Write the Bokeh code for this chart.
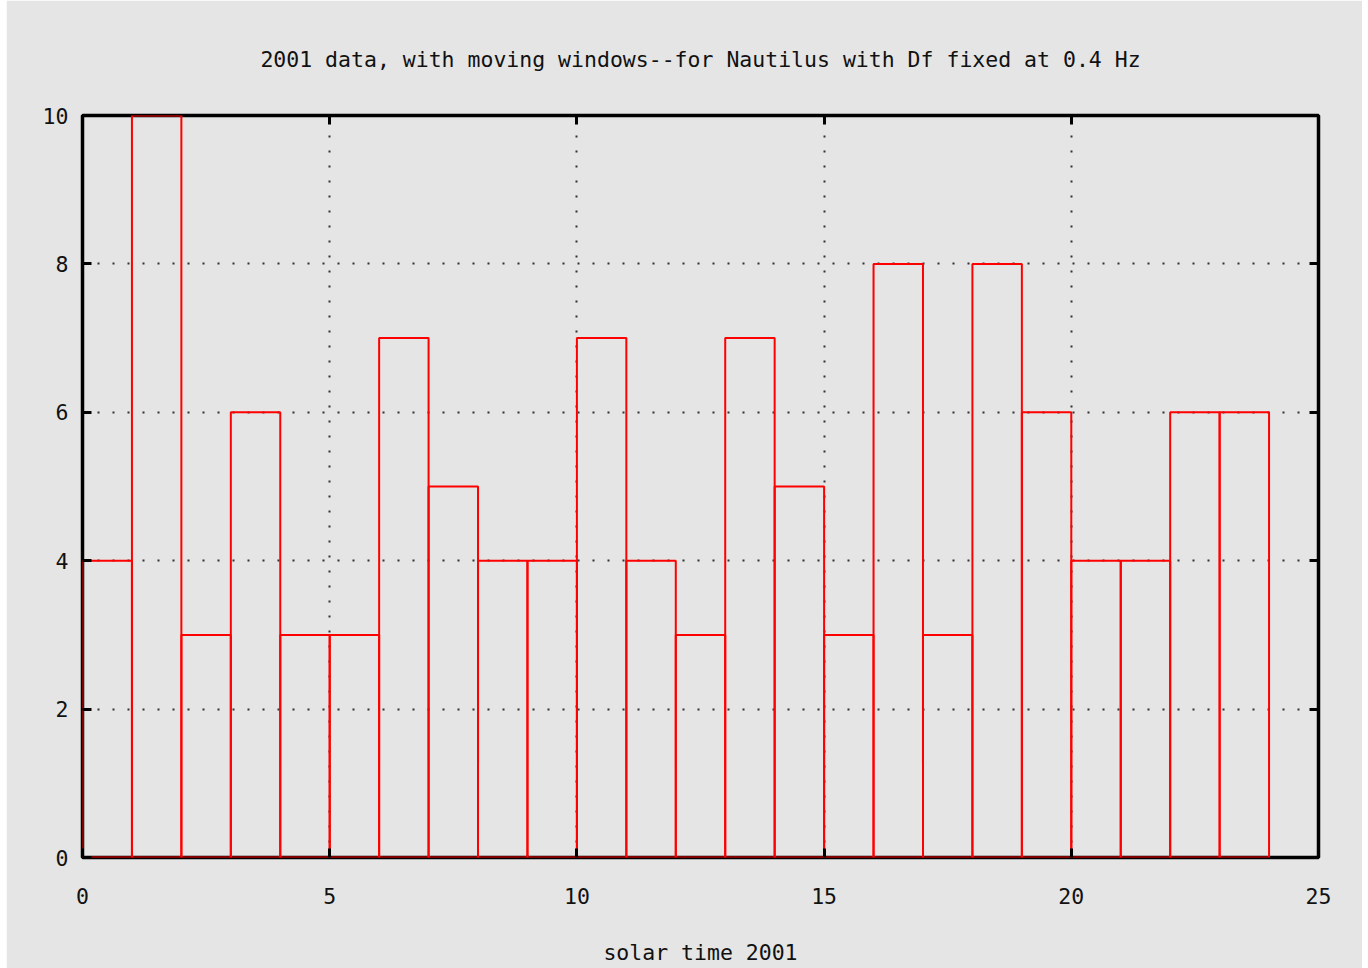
from bokeh.plotting import figure
from bokeh.models import FixedTicker, LinearAxis, Range1d
from bokeh.embed import file_html
from bokeh.resources import INLINE

# data
bin_left = list(range(24))
counts = [4, 10, 3, 6, 3, 3, 7, 5, 4, 4, 7, 4, 3, 7, 5, 3, 8, 3, 8, 6, 4, 4, 6, 6]
x_ticks = [0, 5, 10, 15, 20, 25]
y_ticks = [0, 2, 4, 6, 8, 10]
title_text = "2001 data, with moving windows--for Nautilus with Df fixed at 0.4 Hz"
x_label = "solar time 2001"

FONT = "DejaVu Sans Mono"
FS = "21.5px"
BG = "#e5e5e5"

p = figure(width=1356, height=968, output_backend="svg", toolbar_location=None,
           x_range=Range1d(0, 25), y_range=Range1d(0, 10),
           background_fill_color=BG, border_fill_color=BG,
           min_border_left=76, min_border_right=44, min_border_top=115, min_border_bottom=111,
           title=title_text)
p.margin = (0, 6, 0, 6)

p.title.align = "center"
p.title.text_font = FONT
p.title.text_font_size = FS
p.title.text_font_style = "normal"
p.title.text_color = "#111111"
p.title.standoff = 88

right = [l + 1 for l in bin_left]
bottom = [0] * len(counts)
p.quad(left=bin_left, right=right, top=counts, bottom=bottom,
       fill_color=None, line_color="#ff0000", line_width=2)

p.outline_line_color = "black"
p.outline_line_width = 3.5

for ax in [p.xaxis[0], p.yaxis[0]]:
    ax.axis_line_color = None
    ax.major_tick_in = 9
    ax.major_tick_out = 0
    ax.major_tick_line_width = 3
    ax.major_tick_line_color = "black"
    ax.minor_tick_line_color = None
    ax.major_label_text_font = FONT
    ax.major_label_text_font_size = FS
    ax.major_label_text_color = "#111111"

p.xaxis[0].ticker = FixedTicker(ticks=x_ticks)
p.yaxis[0].ticker = FixedTicker(ticks=y_ticks)
p.xaxis[0].major_label_standoff = 30
p.yaxis[0].major_label_standoff = 14
p.xaxis[0].axis_label = x_label
p.xaxis[0].axis_label_text_font = FONT
p.xaxis[0].axis_label_text_font_size = FS
p.xaxis[0].axis_label_text_font_style = "normal"
p.xaxis[0].axis_label_text_color = "#111111"
p.xaxis[0].axis_label_standoff = 33

for loc, tk in [("above", x_ticks), ("right", y_ticks)]:
    ax = LinearAxis(ticker=FixedTicker(ticks=tk))
    ax.axis_line_color = None
    ax.major_tick_in = 9
    ax.major_tick_out = 0
    ax.major_tick_line_width = 3
    ax.major_tick_line_color = "black"
    ax.minor_tick_line_color = None
    ax.major_label_text_font_size = "0px"
    ax.major_label_text_color = None
    ax.major_label_standoff = 0
    p.add_layout(ax, loc)

p.xgrid.ticker = FixedTicker(ticks=x_ticks[1:-1])
p.ygrid.ticker = FixedTicker(ticks=y_ticks[1:-1])
for g in [p.xgrid[0], p.ygrid[0]]:
    g.grid_line_color = "#333333"
    g.grid_line_width = 2
    g.grid_line_dash = "2 13"

open("out.html", "w").write(file_html(p, INLINE))
